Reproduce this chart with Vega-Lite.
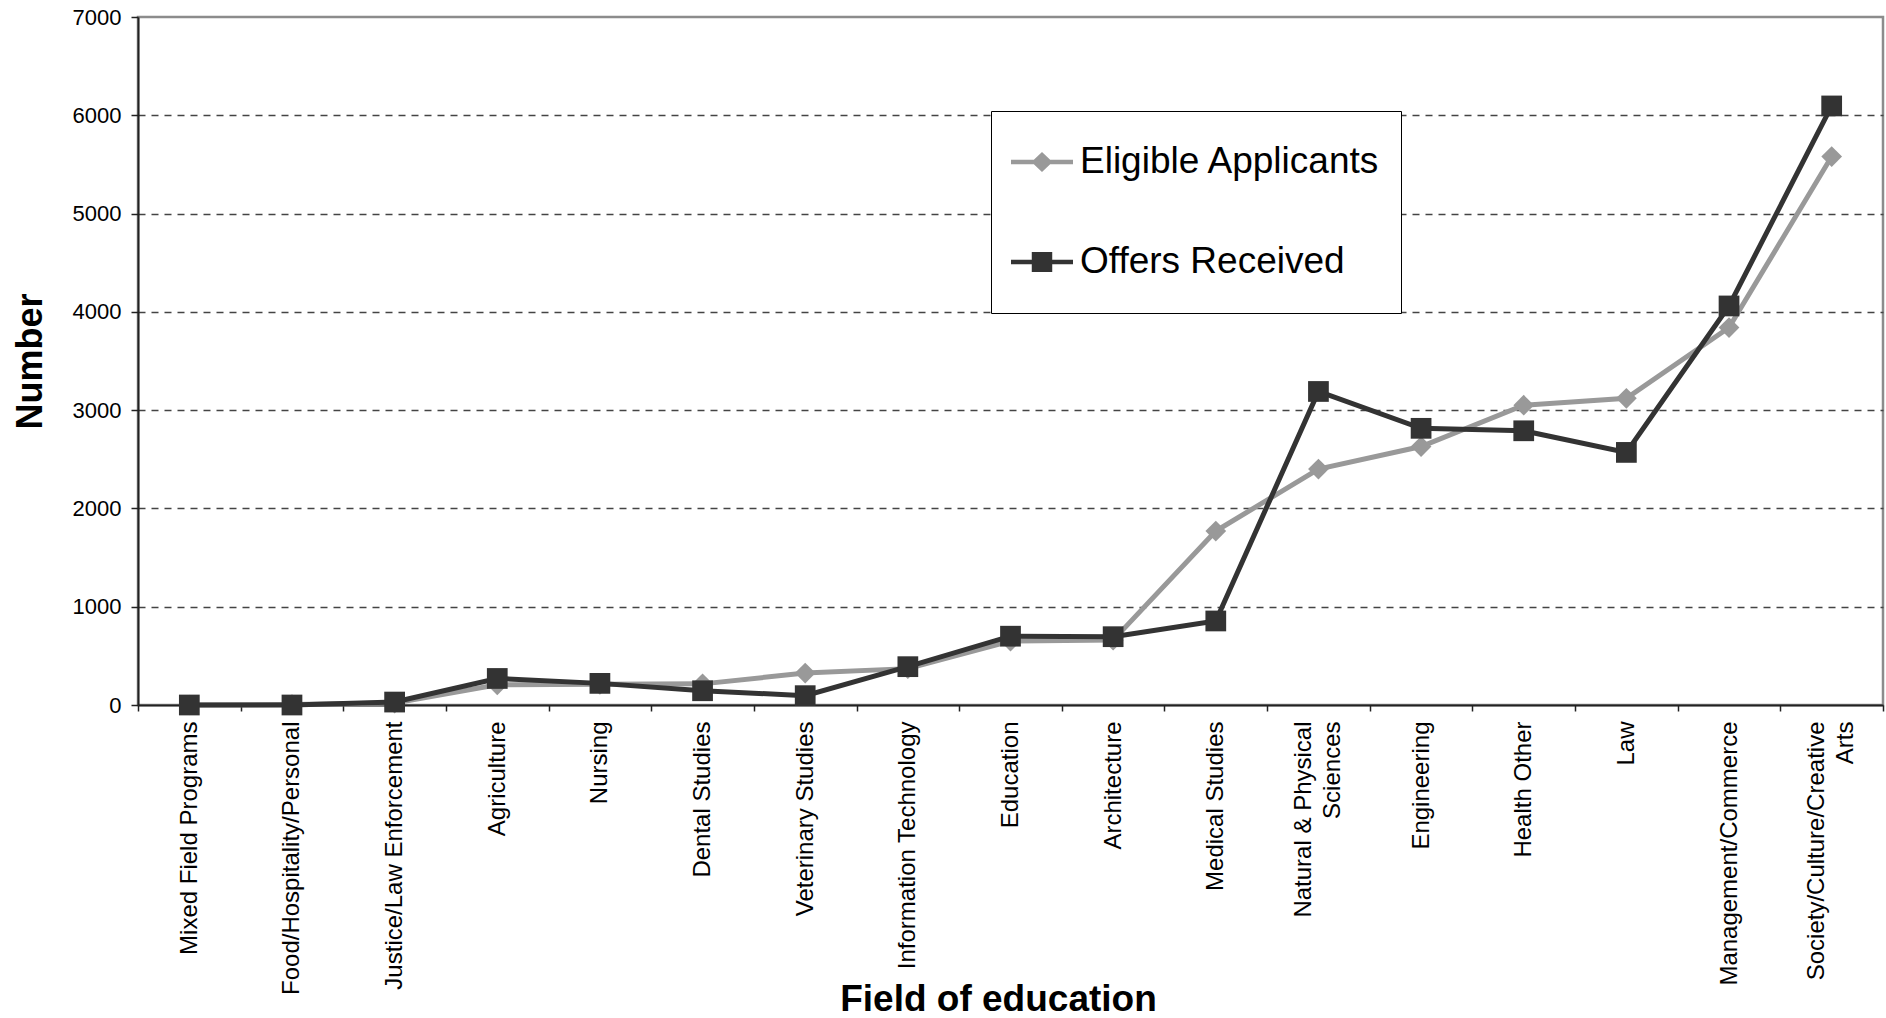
{
  "$schema": "https://vega.github.io/schema/vega-lite/v6.json",
  "width": 1745,
  "height": 688,
  "autosize": {"type": "none"},
  "padding": {"left": 138, "top": 17, "right": 3, "bottom": 313},
  "background": "white",
  "config": {
    "view": {"stroke": "#8c8c8c", "strokeWidth": 2.5},
    "font": "Liberation Sans"
  },
  "data": {
    "values": [
      {"field": "Mixed Field Programs", "series": "Eligible Applicants", "value": 0},
      {"field": "Food/Hospitality/Personal", "series": "Eligible Applicants", "value": 5},
      {"field": "Justice/Law Enforcement", "series": "Eligible Applicants", "value": 20},
      {"field": "Agriculture", "series": "Eligible Applicants", "value": 205},
      {"field": "Nursing", "series": "Eligible Applicants", "value": 210},
      {"field": "Dental Studies", "series": "Eligible Applicants", "value": 215},
      {"field": "Veterinary Studies", "series": "Eligible Applicants", "value": 325},
      {"field": "Information Technology", "series": "Eligible Applicants", "value": 370},
      {"field": "Education", "series": "Eligible Applicants", "value": 650},
      {"field": "Architecture", "series": "Eligible Applicants", "value": 660},
      {"field": "Medical Studies", "series": "Eligible Applicants", "value": 1770},
      {"field": "Natural & Physical Sciences", "series": "Eligible Applicants", "value": 2400},
      {"field": "Engineering", "series": "Eligible Applicants", "value": 2630},
      {"field": "Health Other", "series": "Eligible Applicants", "value": 3050},
      {"field": "Law", "series": "Eligible Applicants", "value": 3120},
      {"field": "Management/Commerce", "series": "Eligible Applicants", "value": 3840},
      {"field": "Society/Culture/Creative Arts", "series": "Eligible Applicants", "value": 5580},
      {"field": "Mixed Field Programs", "series": "Offers Received", "value": 0},
      {"field": "Food/Hospitality/Personal", "series": "Offers Received", "value": 0},
      {"field": "Justice/Law Enforcement", "series": "Offers Received", "value": 30},
      {"field": "Agriculture", "series": "Offers Received", "value": 270},
      {"field": "Nursing", "series": "Offers Received", "value": 220},
      {"field": "Dental Studies", "series": "Offers Received", "value": 145},
      {"field": "Veterinary Studies", "series": "Offers Received", "value": 95},
      {"field": "Information Technology", "series": "Offers Received", "value": 390},
      {"field": "Education", "series": "Offers Received", "value": 700},
      {"field": "Architecture", "series": "Offers Received", "value": 695},
      {"field": "Medical Studies", "series": "Offers Received", "value": 855},
      {"field": "Natural & Physical Sciences", "series": "Offers Received", "value": 3190},
      {"field": "Engineering", "series": "Offers Received", "value": 2815},
      {"field": "Health Other", "series": "Offers Received", "value": 2790},
      {"field": "Law", "series": "Offers Received", "value": 2570},
      {"field": "Management/Commerce", "series": "Offers Received", "value": 4060},
      {"field": "Society/Culture/Creative Arts", "series": "Offers Received", "value": 6095}
    ]
  },
  "encoding": {
    "x": {
      "field": "field",
      "type": "nominal",
      "sort": null,
      "scale": {"type": "band", "paddingInner": 0, "paddingOuter": 0},
      "axis": {
        "title": "Field of education",
        "titleFont": "Liberation Sans",
        "titleFontSize": 37,
        "titleFontWeight": "bold",
        "titleColor": "#000",
        "titleBaseline": "alphabetic",
        "titleY": 305,
        "titleX": 860,
        "tickBand": "extent",
        "ticks": true,
        "tickSize": 6,
        "tickColor": "#222",
        "tickWidth": 1.5,
        "domainColor": "#222",
        "domainWidth": 2,
        "labelAngle": -90,
        "labelFontSize": 24,
        "labelColor": "#000",
        "labelPadding": 10,
        "labelLimit": 400,
        "labelLineHeight": 29,
        "labelOffset": {"condition": {"test": "datum.value == 'Natural & Physical Sciences' || datum.value == 'Society/Culture/Creative Arts'", "value": -15}, "value": 0},
        "labelExpr": "datum.value == 'Natural & Physical Sciences' ? ['Natural & Physical', 'Sciences'] : datum.value == 'Society/Culture/Creative Arts' ? ['Society/Culture/Creative', 'Arts'] : datum.label"
      }
    },
    "y": {
      "field": "value",
      "type": "quantitative",
      "scale": {"domain": [0, 7000], "nice": false},
      "axis": {
        "title": "Number",
        "titleFont": "Liberation Sans",
        "titleFontSize": 36,
        "titleFontWeight": "bold",
        "titleColor": "#000",
        "titleAngle": -90,
        "titleAlign": "center",
        "titleBaseline": "alphabetic",
        "titleX": -97,
        "titleY": 344,
        "values": [0, 1000, 2000, 3000, 4000, 5000, 6000, 7000],
        "format": "d",
        "grid": true,
        "gridColor": "#444",
        "gridDash": [7, 6],
        "gridWidth": 1.3,
        "gridOpacity": {"condition": {"test": "datum.value === 0 || datum.value === 7000", "value": 0}, "value": 1},
        "tickSize": 7,
        "tickColor": "#222",
        "tickWidth": 1.5,
        "domainColor": "#222",
        "domainWidth": 2,
        "labelFontSize": 22,
        "labelColor": "#000",
        "labelPadding": 10
      }
    }
  },
  "layer": [
    {
      "transform": [{"filter": "datum.series === 'Eligible Applicants'"}],
      "mark": {"type": "line", "color": "#999999", "strokeWidth": 5}
    },
    {
      "transform": [{"filter": "datum.series === 'Eligible Applicants'"}],
      "mark": {"type": "point", "filled": true, "color": "#999999", "opacity": 1, "shape": "diamond", "size": 430}
    },
    {
      "transform": [{"filter": "datum.series === 'Offers Received'"}],
      "mark": {"type": "line", "color": "#333333", "strokeWidth": 5}
    },
    {
      "transform": [{"filter": "datum.series === 'Offers Received'"}],
      "mark": {"type": "point", "filled": true, "color": "#333333", "opacity": 1, "shape": "square", "size": 430}
    },
    {
      "mark": {"type": "point", "filled": true, "opacity": 0, "size": 3844},
      "encoding": {
        "color": {
          "field": "series",
          "type": "nominal",
          "scale": {"domain": ["Eligible Applicants", "Offers Received"], "range": ["#999999", "#333333"]},
          "legend": {
            "title": null,
            "orient": "none",
            "legendX": 853,
            "legendY": 94,
            "direction": "vertical",
            "fillColor": "white",
            "strokeColor": "#000",
            "padding": 20,
            "symbolSize": 3844,
            "symbolStrokeWidth": 0,
            "symbolOpacity": 1,
            "labelFontSize": 37,
            "labelFont": "Liberation Sans",
            "labelColor": "#000",
            "labelOffset": 7,
            "labelLimit": 600,
            "rowPadding": 38,
            "encode": {
              "symbols": {"update": {"opacity": {"value": 1}, "fillOpacity": {"value": 1}, "strokeOpacity": {"value": 0}}}
            }
          }
        },
        "shape": {
          "field": "series",
          "type": "nominal",
          "scale": {"domain": ["Eligible Applicants", "Offers Received"], "range": ["M0,-1L0,-1M0,1L0,1M-1,-0.075H1V0.075H-1Z M0,-0.32L0.34,0L0,0.32L-0.34,0Z", "M0,-1L0,-1M0,1L0,1M-1,-0.075H1V0.075H-1Z M-0.33,-0.32H0.33V0.32H-0.33Z"]},
          "legend": {"title": null}
        }
      }
    }
  ]
}
